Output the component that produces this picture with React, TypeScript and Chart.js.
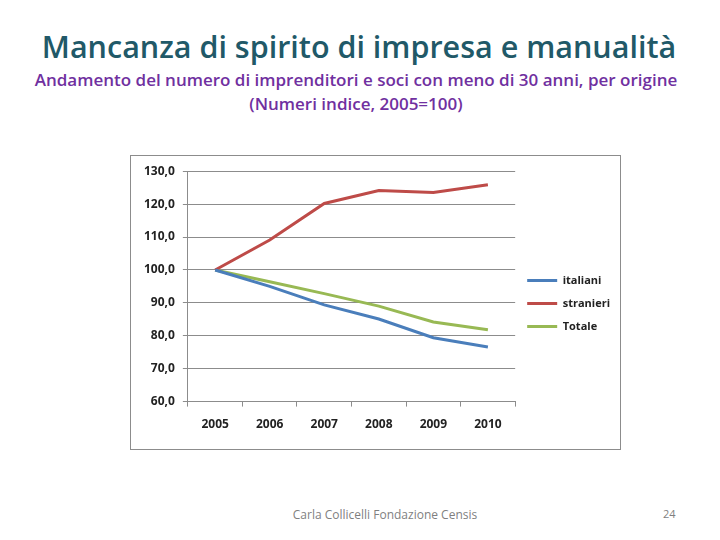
import React, { useEffect, useRef } from 'react';
import { Chart, registerables } from 'chart.js';

Chart.register(...registerables);

const years = ['2005', '2006', '2007', '2008', '2009', '2010'];
const italiani = [100, 95.0, 89.4, 85.1, 79.4, 76.6];
const stranieri = [100, 109.1, 120.2, 124.1, 123.5, 125.9];
const totale = [100, 96.4, 92.8, 89.0, 84.2, 81.8];

const FONT = "'Open Sans', sans-serif";

const App = () => {
    const chartRef = useRef<HTMLCanvasElement>(null);
    const chartInstance = useRef<Chart | null>(null);

    useEffect(() => {
        document.body.style.margin = '0';
        if (!chartRef.current) return;
        const ctx = chartRef.current.getContext('2d');
        if (!ctx) return;
        if (chartInstance.current) chartInstance.current.destroy();

        chartInstance.current = new Chart(ctx, {
            type: 'line',
            data: {
                labels: years,
                datasets: [
                    { label: 'italiani', data: italiani, borderColor: '#4a7ebb', borderWidth: 3, pointRadius: 0, tension: 0 },
                    { label: 'stranieri', data: stranieri, borderColor: '#be4b48', borderWidth: 3, pointRadius: 0, tension: 0 },
                    { label: 'Totale', data: totale, borderColor: '#98b954', borderWidth: 3, pointRadius: 0, tension: 0 },
                ],
            },
            options: {
                animation: false,
                responsive: false,
                maintainAspectRatio: false,
                layout: { padding: { top: 8, left: 5, right: 0, bottom: 6 } },
                plugins: {
                    tooltip: { enabled: false },
                    legend: {
                        position: 'right',
                        labels: {
                            usePointStyle: true,
                            pointStyle: 'line',
                            pointStyleWidth: 30,
                            padding: 12,
                            color: '#222',
                            font: { family: FONT, size: 11, weight: 'bold' },
                        },
                    },
                },
                scales: {
                    y: {
                        min: 60,
                        max: 130,
                        ticks: {
                            stepSize: 10,
                            color: '#222',
                            padding: 8,
                            font: { family: FONT, size: 12, weight: 'bold' },
                            callback: (v) => Number(v).toFixed(1).replace('.', ','),
                        },
                        grid: { color: '#8c8c8c', lineWidth: 1, tickLength: 5 },
                        border: { color: '#8c8c8c' },
                    },
                    x: {
                        offset: true,
                        ticks: {
                            color: '#222',
                            padding: 11,
                            font: { family: FONT, size: 12, weight: 'bold' },
                        },
                        grid: { drawOnChartArea: false, color: '#8c8c8c', tickLength: 5, offset: true },
                        border: { color: '#8c8c8c' },
                    },
                },
            },
        });

        return () => {
            if (chartInstance.current) {
                chartInstance.current.destroy();
                chartInstance.current = null;
            }
        };
    }, []);

    return (
        <div style={{ position: 'relative', width: 720, height: 540, background: '#fff', fontFamily: FONT, overflow: 'hidden' }}>
            <div style={{ position: 'absolute', top: 24, left: 0, width: 718, textAlign: 'center', fontSize: 30.5, fontWeight: 600, color: '#215968', lineHeight: '44px', whiteSpace: 'nowrap' }}>
                Mancanza di spirito di impresa e manualità
            </div>
            <div style={{ position: 'absolute', top: 68, left: 0, width: 712, textAlign: 'center', fontSize: 17, fontWeight: 600, color: '#7030a0', lineHeight: '24px', whiteSpace: 'nowrap' }}>
                Andamento del numero di imprenditori e soci con meno di 30 anni, per origine
                <br />
                (Numeri indice, 2005=100)
            </div>
            <div style={{ position: 'absolute', left: 130, top: 155, width: 489, height: 293, border: '1px solid #8c8c8c' }}>
                <canvas ref={chartRef} width={489} height={293} style={{ display: 'block' }}></canvas>
            </div>
            <div style={{ position: 'absolute', top: 506, left: 240, width: 290, textAlign: 'center', fontSize: 12, color: '#7f7f7f' }}>
                Carla Collicelli Fondazione Censis
            </div>
            <div style={{ position: 'absolute', top: 506, left: 663, fontSize: 11, color: '#7f7f7f' }}>24</div>
        </div>
    );
};

export default App;
